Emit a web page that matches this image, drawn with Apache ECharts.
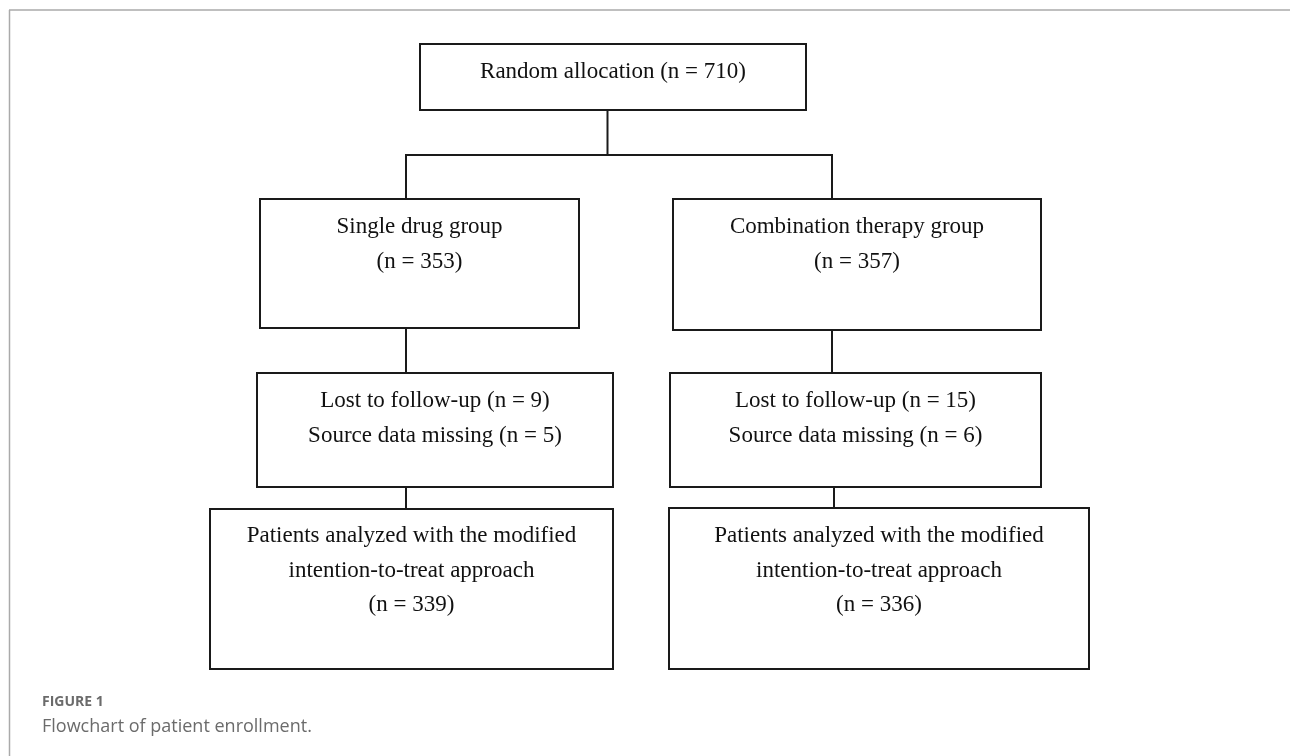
<!DOCTYPE html>
<html>
<head>
<meta charset="utf-8">
<title>Flowchart of patient enrollment</title>
<script src="https://cdn.jsdelivr.net/npm/echarts@6/dist/echarts.min.js"></script>
<style>
  html, body { margin: 0; padding: 0; background: #fff; }
  #main { width: 1290px; height: 756px; }
</style>
</head>
<body>
<div id="main"></div>
<script>
// counts
const allocated = 710
const groupNames = ['Single drug group', 'Combination therapy group']
const groupCounts = [353, 357]
const lostCounts = [9, 15]
const missingCounts = [5, 6]
const analyzedCounts = [339, 336]

// box layout in page units: [x0, y0, x1, y1, first text line y]
const boxLayout = [
  [420, 44, 806, 110, 72],
  [260, 199, 579, 328, 227],
  [673, 199, 1041, 330, 227],
  [257, 373, 613, 487, 401],
  [670, 373, 1041, 487, 401],
  [210, 509, 613, 669, 536],
  [669, 508, 1089, 669, 536]
]

// connectors as polylines
const linkLayout = [
  [[607.5, 110], [607.5, 155]],
  [[406, 199], [406, 155], [832, 155], [832, 199]],
  [[406, 328], [406, 373]],
  [[832, 330], [832, 373]],
  [[406, 487], [406, 509]],
  [[834, 487], [834, 508]]
]

const boxText = [
  'Random allocation (n = ' + allocated + ')',
  groupNames[0] + '\n(n = ' + groupCounts[0] + ')',
  groupNames[1] + '\n(n = ' + groupCounts[1] + ')',
  'Lost to follow-up (n = ' + lostCounts[0] + ')\nSource data missing (n = ' + missingCounts[0] + ')',
  'Lost to follow-up (n = ' + lostCounts[1] + ')\nSource data missing (n = ' + missingCounts[1] + ')',
  'Patients analyzed with the modified\nintention-to-treat approach\n(n = ' + analyzedCounts[0] + ')',
  'Patients analyzed with the modified\nintention-to-treat approach\n(n = ' + analyzedCounts[1] + ')'
]

const LINE_H = 34.5
const chart = echarts.init(document.getElementById('main'))

chart.setOption({
  animation: false,
  backgroundColor: '#fff',
  grid: { left: 0, right: 0, top: 0, bottom: 0 },
  xAxis: { type: 'value', min: 0, max: 1290, show: false },
  yAxis: { type: 'value', min: 0, max: 756, inverse: true, show: false },
  graphic: [
    // frame of the figure panel
    { type: 'line', shape: { x1: 9, y1: 10, x2: 1290, y2: 10 }, style: { stroke: '#aaa', lineWidth: 1.5 }, z: 1 },
    { type: 'line', shape: { x1: 9.5, y1: 10, x2: 9.5, y2: 756 }, style: { stroke: '#aaa', lineWidth: 1.5 }, z: 1 },
    {
      type: 'text', left: 42, top: 695,
      style: { text: 'FIGURE 1', fill: '#6b6b6b', font: 'bold 14px "Open Sans", sans-serif' }
    },
    {
      type: 'text', left: 42, top: 718,
      style: { text: 'Flowchart of patient enrollment.', fill: '#6b6b6b', font: '18px "Open Sans", sans-serif' }
    }
  ],
  series: [
    {
      type: 'custom',
      coordinateSystem: 'cartesian2d',
      data: linkLayout.map((pts, i) => [i]),
      renderItem: (params, api) => {
        const pts = linkLayout[params.dataIndex].map(p => api.coord(p))
        return {
          type: 'polyline',
          shape: { points: pts },
          style: { stroke: '#1a1a1a', lineWidth: 2, fill: null }
        }
      },
      silent: true
    },
    {
      type: 'custom',
      coordinateSystem: 'cartesian2d',
      data: boxLayout.map((b, i) => [b[0], b[1], b[2], b[3], b[4], i]),
      renderItem: (params, api) => {
        const p0 = api.coord([api.value(0), api.value(1)])
        const p1 = api.coord([api.value(2), api.value(3)])
        const t = api.coord([(api.value(0) + api.value(2)) / 2, api.value(4)])
        return {
          type: 'group',
          children: [
            {
              type: 'rect',
              shape: { x: p0[0], y: p0[1], width: p1[0] - p0[0], height: p1[1] - p0[1] },
              style: { fill: '#fff', stroke: '#1a1a1a', lineWidth: 2 }
            },
            {
              type: 'text',
              style: {
                x: t[0],
                y: t[1] - LINE_H / 2,
                text: boxText[api.value(5)],
                fill: '#111',
                font: '23px "Liberation Serif", "Times New Roman", serif',
                lineHeight: LINE_H,
                align: 'center',
                verticalAlign: 'top'
              }
            }
          ]
        }
      },
      silent: true
    }
  ]
})
</script>
</body>
</html>
